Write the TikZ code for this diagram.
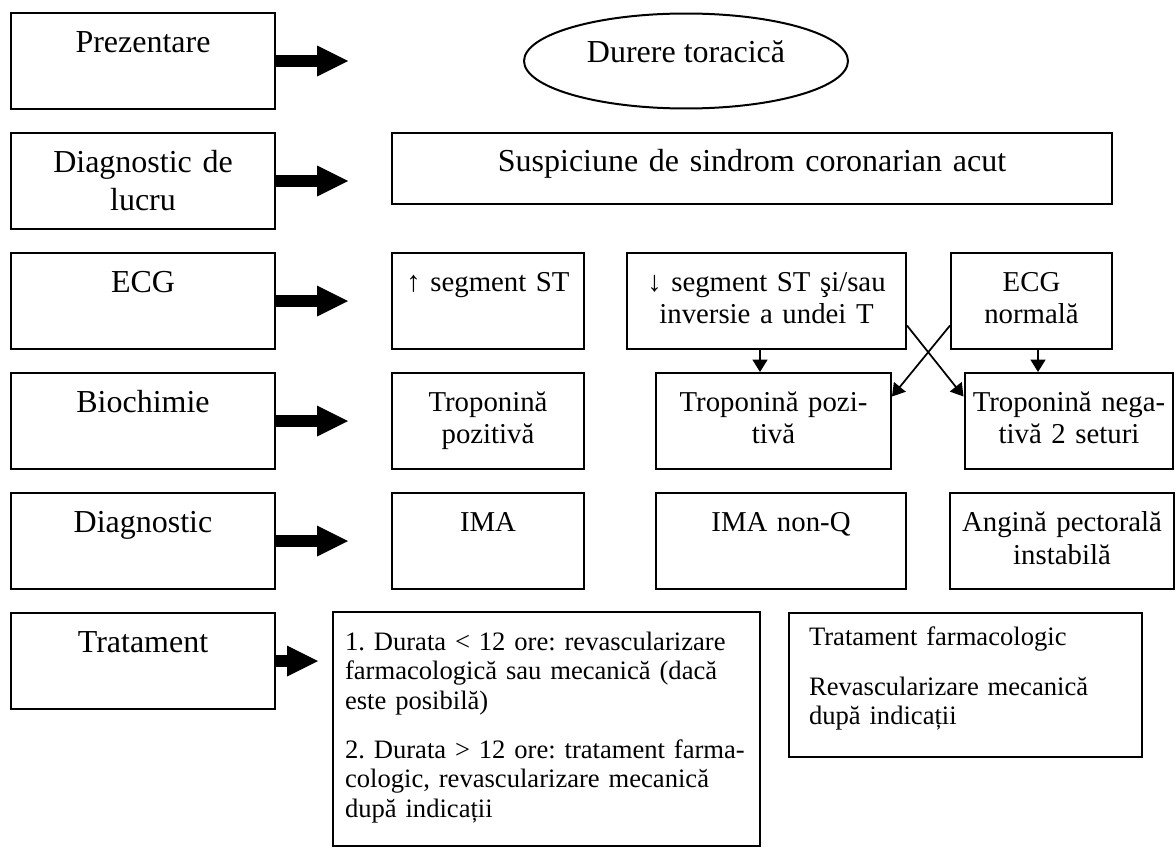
\documentclass[tikz,border=0pt]{standalone}
\usepackage{fontspec}
\setmainfont{Liberation Serif}
\usetikzlibrary{arrows.meta,calc,shapes.geometric}
\frenchspacing

\tikzset{
  box/.style={draw, line width=0.04cm, inner sep=0pt},
  bigfont/.style={font=\fontsize{0.64cm}{0.76cm}\selectfont},
  midfont/.style={font=\fontsize{0.576cm}{0.66cm}\selectfont},
  smallfont/.style={font=\fontsize{0.532cm}{0.59cm}\selectfont},
  rowbox/.style={box, bigfont, align=center, text width=5.28cm, text height=0.79cm, text depth=1.13cm},
  cell/.style={box, midfont, align=center, text width=#1, text height=0.76cm, text depth=1.16cm},
  bigarrow/.style={line width=0.24cm, -{Triangle[length=0.62cm,width=0.62cm,line width=0pt]}},
  smallarrow/.style={line width=0.035cm, -{Triangle[length=0.25cm,width=0.3cm]}}
}

\begin{document}
\begin{tikzpicture}[x=0.02cm, y=-0.02cm]
			%%%%% START %%%%%
			\useasboundingbox (0,0) rectangle (1176,848);
			
			\node[rowbox] (prez) at (143,61) {Prezentare};
			\node[rowbox] (lucru) at (143,181) {Diagnostic de\\lucru};
			\node[rowbox] (ecg) at (143,301) {ECG};
			\node[rowbox] (bio) at (143,421) {Biochimie};
			\node[rowbox] (diag) at (143,541) {Diagnostic};
			\node[rowbox] (trat) at (143,661) {Tratament};
			
			\node[draw, ellipse, line width=0.04cm, inner sep=0pt, bigfont, minimum width=6.48cm, minimum height=1.9cm, text height=0.4cm, text depth=0.32cm] (durere) at (686,61) {Durere toracică};
			\node[box, bigfont, align=center, text width=14.4cm, text height=0.78cm, text depth=0.64cm] (sca) at (752,168.5) {Suspiciune de sindrom coronarian acut};
			
			\node[cell=3.84cm] (stup) at (488,301) {↑ segment ST};
			\node[cell=5.58cm] (stdown) at (766.5,301) {↓ segment ST şi/sau\\inversie a undei T};
			\node[cell=3.22cm] (ecgn) at (1031.5,301) {ECG\\normală};
			
			\node[cell=3.84cm] (tropA) at (488,421) {Troponină\\pozitivă};
			\node[cell=4.7cm] (tropB) at (773.5,421) {Troponină pozi-\\tivă};
			\node[cell=4.18cm] (tropC) at (1069,421) {Troponină nega-\\tivă 2 seturi};
			
			\node[cell=3.84cm] (ima) at (488,541) {IMA};
			\node[cell=5cm] (imanq) at (781,541) {IMA non-Q};
			\node[cell=4.48cm] (apinst) at (1062,541) {Angină pectorală\\instabilă};
			
			\node[box, smallfont, align=left, minimum width=8.54cm, text width=8.06cm, text height=0.76cm, text depth=3.92cm] (tratA) at (546.5,729) {1. Durata < 12 ore: revascularizare\\farmacologică sau mecanică (dacă\\este posibilă)\\[0.4cm]2. Durata > 12 ore: tratament farma-\\cologic, revascularizare mecanică\\după indicații};
			\node[box, smallfont, align=left, minimum width=7.06cm, text width=6.26cm, text height=0.64cm, text depth=2.24cm] (tratB) at (965.5,685) {Tratament farmacologic\\[0.42cm]Revascularizare mecanică\\după indicații};
			
			\coordinate (tipA) at (348,0);
			\coordinate (tipB) at (318,0);
			\draw[bigarrow] (prez.east) -- (prez.east -| tipA);
			\draw[bigarrow] (lucru.east) -- (lucru.east -| tipA);
			\draw[bigarrow] (ecg.east) -- (ecg.east -| tipA);
			\draw[bigarrow] (bio.east) -- (bio.east -| tipA);
			\draw[bigarrow] (diag.east) -- (diag.east -| tipA);
			\draw[bigarrow] (trat.east) -- (trat.east -| tipB);
			
			\coordinate (dropA) at (760,0);
			\coordinate (dropB) at (1038,0);
			\draw[smallarrow] (stdown.south -| dropA) -- (tropB.north -| dropA);
			\draw[smallarrow] (ecgn.south -| dropB) -- (tropC.north -| dropB);
			\draw[smallarrow] ($(ecgn.west)!0.5!(ecgn.south west)$) -- ($(tropB.east)!0.5!(tropB.north east)$);
			\draw[smallarrow] ($(stdown.east)!0.5!(stdown.south east)$) -- ($(tropC.west)!0.5!(tropC.north west)$);
			
			%%%%% END %%%%%
\end{tikzpicture}
\end{document}
